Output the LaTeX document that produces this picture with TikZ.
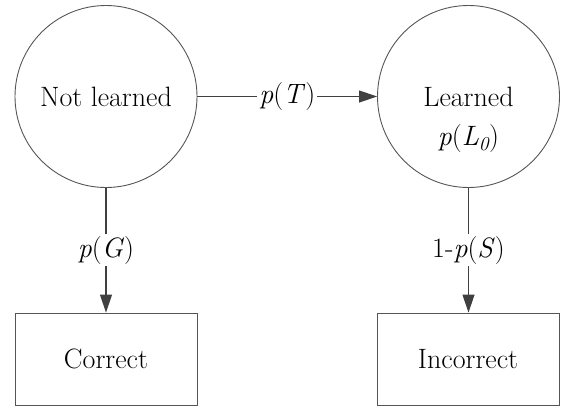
\documentclass[tikz,border=0pt]{standalone}
\usetikzlibrary{arrows.meta}
\definecolor{edgegray}{HTML}{404040}
\definecolor{shapegray}{HTML}{555555}
\begin{document}
\begin{tikzpicture}[x=1pt,y=1pt,
  every node/.style={font=\fontsize{28}{34}\selectfont},
  state/.style={circle,draw=shapegray,line width=0.9pt,minimum size=182pt,inner sep=0pt},
  outbox/.style={rectangle,draw=shapegray,line width=0.9pt,minimum width=182pt,minimum height=92pt,inner sep=0pt},
  conn/.style={draw=edgegray,line width=1.1pt,-{Triangle[length=18pt,width=12pt]}},
  elabel/.style={fill=white,inner sep=2pt}]
\useasboundingbox (0,0) rectangle (564,-410);
\node[state] (nl) at (106,-96.5) {Not learned};
\node[state] (l) at (468.5,-96.5) {Learned};
\node (l0) at (468.5,-139) {\textit{p}(\textit{L\textsubscript{0}})};
\node[outbox] (c) at (106,-359) {Correct};
\node[outbox] (ic) at (468,-359) {Incorrect};
\draw[conn] (nl) -- node[elabel] {\textit{p}(\textit{T})} (l);
\draw[conn] (nl.south) -- node[elabel] {\textit{p}(\textit{G})} (nl.south |- c.north);
\draw[conn] (l.south) -- node[elabel] {1-\textit{p}(\textit{S})} (l.south |- ic.north);
\end{tikzpicture}
\end{document}
